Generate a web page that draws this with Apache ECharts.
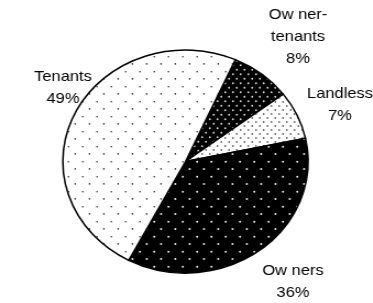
<!DOCTYPE html>
<html>
<head>
<meta charset="utf-8">
<script src="https://cdn.jsdelivr.net/npm/echarts@6/dist/echarts.min.js"></script>
<style>
html, body { margin: 0; padding: 0; background: #fff; overflow: hidden; }
/* the source chart is stretched sideways (oval pie, wide text), so is this one */
#echarts_div { width: 339px; height: 303px; transform: scaleX(1.1); transform-origin: 0 0; }
</style>
</head>
<body>
<div id="echarts_div"></div>
<script>
// slices, clockwise from the top
var categories = ['Ow ner-\ntenants', 'Landless', 'Ow ners', 'Tenants'];
var shares = [8, 7, 36, 49];

var SX = 1.1; // horizontal stretch of the div

// dotted fill tile: two staggered dots per tile
function dotPattern(bg, fg, w, h, dot) {
	var c = document.createElement('canvas');
	c.width = w;
	c.height = h;
	var ctx = c.getContext('2d');
	ctx.fillStyle = bg;
	ctx.fillRect(0, 0, w, h);
	ctx.fillStyle = fg;
	ctx.beginPath();
	ctx.arc(w / 4, h / 4, dot, 0, Math.PI * 2);
	ctx.arc(w * 3 / 4, h * 3 / 4, dot, 0, Math.PI * 2);
	ctx.fill();
	return { image: c, repeat: 'repeat' };
}

var fills = [
	dotPattern('#000', '#d8d8d8', 7, 9, 0.9),     // owner-tenants
	dotPattern('#fff', '#222', 7, 8, 0.8),        // landless
	dotPattern('#000', '#e6e6e6', 13.6, 15.6, 1), // owners
	dotPattern('#fff', '#333', 13.6, 15.6, 0.8)   // tenants
];

// label block centres, in page pixels
var labelPos = [[298, 37], [340, 105], [293, 282], [63, 88]];

function createPie() {
	var myChart = echarts.init(document.getElementById('echarts_div'));

	var pieData = [];
	for (var i = 0; i < categories.length; i++) {
		pieData.push({
			name: categories[i],
			value: shares[i],
			itemStyle: { color: fills[i] }
		});
	}

	var option = {
		animation: false,
		series: [{
			type: 'pie',
			center: [185.5 / SX, 161.5],
			radius: 111.5,
			startAngle: 66,
			clockwise: true,
			avoidLabelOverlap: false,
			itemStyle: {
				borderColor: '#000',
				borderWidth: 1.5
			},
			label: {
				show: true,
				position: 'outside',
				color: '#000',
				fontFamily: 'Liberation Sans, Arial, sans-serif',
				fontSize: 15,
				lineHeight: 22,
				formatter: function (p) {
					return p.name + '\n' + p.value + '%';
				}
			},
			labelLine: { show: false },
			labelLayout: function (p) {
				var pos = labelPos[p.dataIndex];
				return { x: pos[0] / SX, y: pos[1], align: 'center', verticalAlign: 'middle' };
			},
			emphasis: { disabled: true },
			data: pieData
		}]
	};

	myChart.setOption(option);
}

createPie();
</script>
</body>
</html>
